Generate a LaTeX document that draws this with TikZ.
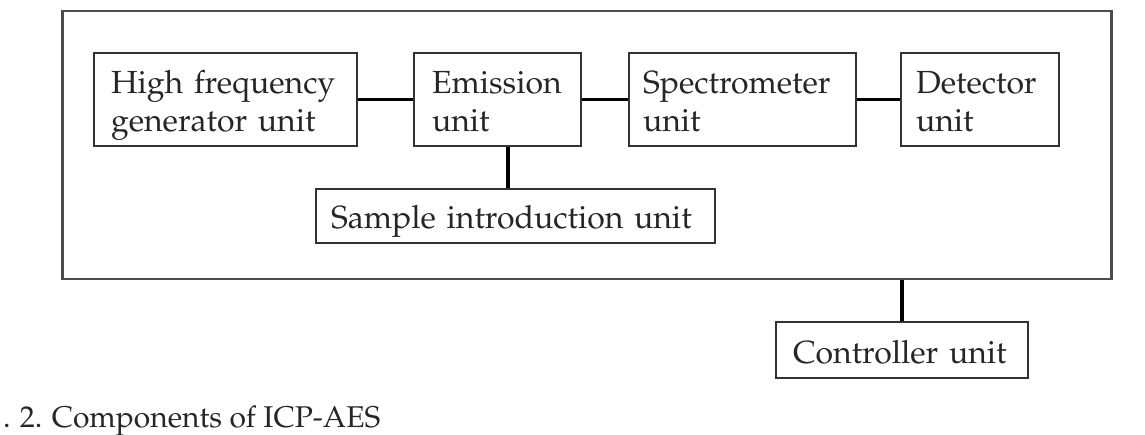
\documentclass[tikz,border=0pt]{standalone}
\usepackage[T1]{fontenc}
\usepackage{mathpazo}
\newcommand\topst{\rule{0pt}{35pt}}
\newcommand\botst{\rule[-9pt]{0pt}{9pt}}
\newcommand\onest{\rule[-9pt]{0pt}{44pt}}
\tikzset{
  unitbox/.style={draw=black!80, line width=2pt, rectangle, anchor=north west,
    inner xsep=17pt, inner ysep=0pt, align=left, text=black!85,
    font=\fontsize{32}{38}\selectfont},
  frame/.style={draw=black!70, line width=2.5pt, rectangle, anchor=north west, inner sep=0pt},
  conn/.style={draw=black, line width=3.5pt},
}
\begin{document}
\begin{tikzpicture}[x=1pt,y=-1pt]
\useasboundingbox (0,0) rectangle (1145,435);
\node[frame, minimum width=1049pt, minimum height=268pt] (outer) at (61,10) {};
\node[unitbox, text width=229pt, minimum height=93pt] (hf) at (93,52) {\topst High frequency\\generator unit\botst};
\node[unitbox, text width=131pt, minimum height=93pt, inner xsep=18pt] (em) at (413,52) {\topst Emission\\unit\botst};
\node[unitbox, text width=199pt, minimum height=93pt, inner xsep=14pt] (sp) at (628,52) {\topst Spectrometer\\unit\botst};
\node[unitbox, text width=128pt, minimum height=93pt, inner xsep=15pt] (det) at (900,52) {\topst Detector\\unit\botst};
\node[unitbox, text width=369pt, minimum height=54pt, inner xsep=15pt] (si) at (315,188) {\onest Sample introduction unit};
\node[unitbox, text width=218pt, minimum height=56pt] (ctrl) at (775,321) {\onest Controller unit};
\draw[conn] (hf.east) -- (em.west);
\draw[conn] (em.east) -- (sp.west);
\draw[conn] (sp.east) -- (det.west);
\draw[conn] ([xshift=10.5pt]em.south) -- ([xshift=10.5pt]em.south |- si.north);
\draw[conn] (ctrl.north) -- (ctrl.north |- outer.south);
\node[anchor=base west, inner sep=0pt, text=black!85, font=\fontsize{30}{36}\selectfont] (cap) at (3,427) {. 2. Components of ICP-AES};
\end{tikzpicture}
\end{document}
